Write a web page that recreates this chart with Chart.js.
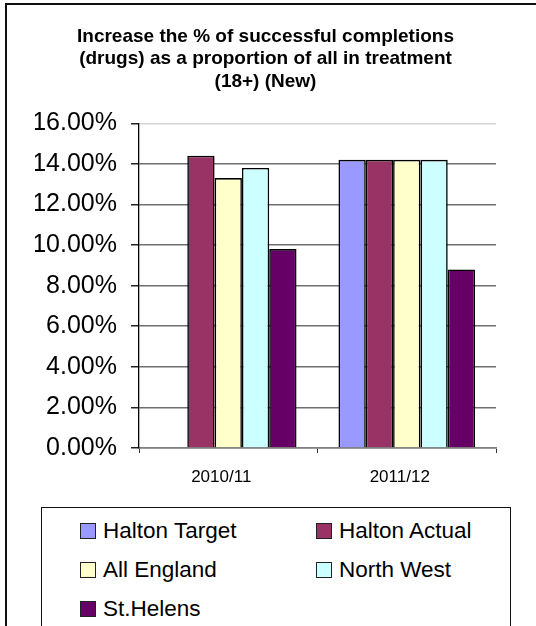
<!DOCTYPE html>
<html lang="en">
<head>
<meta charset="UTF-8" />
<title>Successful completions (drugs)</title>
<script src="https://cdn.jsdelivr.net/npm/chart.js"></script>
<style>
  html, body { margin: 0; padding: 0; background: #fff; }
  #wrap { position: relative; width: 536px; height: 626px; overflow: hidden; font-family: "Liberation Sans", Arial, sans-serif; }
  #frame { position: absolute; left: 5px; top: 3px; width: 560px; height: 660px; border-left: 2px solid #111; border-top: 2px solid #111; }
  #chart { position: absolute; left: 0; top: 0; }
  #legend { position: absolute; left: 41px; top: 507px; width: 468px; height: 140px; border: 1px solid #111; background: #fff; }
  .item { position: absolute; font-size: 22.5px; color: #000; line-height: 26px; white-space: nowrap; }
  .item span.box { display: inline-block; width: 14px; height: 14px; border: 1.5px solid #222; vertical-align: -1px; margin-right: 7px; }
</style>
</head>
<body>
<div id="wrap">
  <div id="frame"></div>
  <canvas id="chart" width="536" height="626"></canvas>
  <div id="legend"></div>
</div>

<script>
  const categories = ['2010/11', '2011/12'];
  const seriesNames = ['Halton Target', 'Halton Actual', 'All England', 'North West', 'St.Helens'];
  const seriesColors = ['#9999FF', '#993366', '#FFFFCC', '#CCFFFF', '#660066'];

  // % values (Halton Target has no bar in 2010/11)
  const haltonTarget = [null, 14.2];
  const haltonActual = [14.4, 14.2];
  const allEngland = [13.3, 14.2];
  const northWest = [13.8, 14.2];
  const stHelens = [9.8, 8.8];
  const seriesValues = [haltonTarget, haltonActual, allEngland, northWest, stHelens];

  const titleLines = [
    'Increase the % of successful completions',
    '(drugs) as a proportion of all in treatment',
    '(18+) (New)'
  ];

  const datasets = seriesNames.map((name, i) => ({
    label: name,
    data: seriesValues[i],
    backgroundColor: seriesColors[i],
    borderColor: '#000',
    borderWidth: 1.6,
    categoryPercentage: 0.765,
    barPercentage: 1
  }));

  new Chart(document.getElementById('chart'), {
    type: 'bar',
    data: { labels: categories, datasets },
    options: {
      responsive: false,
      animation: false,
      layout: { padding: { left: 35, right: 40, top: 0, bottom: 138 } },
      plugins: {
        legend: { display: false },
        tooltip: { enabled: false },
        title: {
          display: true,
          text: titleLines,
          color: '#000',
          font: { family: '"Liberation Sans", Arial, sans-serif', size: 19, weight: 'bold', lineHeight: 1.18 },
          padding: { top: 25.5, bottom: 30.5 }
        }
      },
      scales: {
        x: {
          afterFit: s => { s.height = 40; },
          grid: { drawOnChartArea: false, drawTicks: true, tickLength: 5, tickColor: '#333', offset: true },
          border: { color: '#808080', width: 1.5 },
          ticks: {
            color: '#000',
            padding: 14,
            labelOffset: -7,
            font: { family: '"Liberation Sans", Arial, sans-serif', size: 17 }
          }
        },
        y: {
          min: 0,
          max: 16,
          afterFit: s => { s.width = 104; },
          grid: {
            color: ctx => ctx.tick && ctx.tick.value === 16 ? '#d4d4d4' : '#6f6f6f',
            tickColor: '#222',
            tickLength: 8,
            lineWidth: 1.5
          },
          border: { color: '#000', width: 1.3 },
          ticks: {
            stepSize: 2,
            color: '#000',
            padding: 14,
            font: { family: '"Liberation Sans", Arial, sans-serif', size: 25 },
            callback: v => v.toFixed(2) + '%'
          }
        }
      }
    }
  });

  // legend in two columns, like the original
  const legend = document.getElementById('legend');
  const colX = [38, 274];
  const rowY = [10, 48.5, 87.5];
  seriesNames.forEach((name, i) => {
    const d = document.createElement('div');
    d.className = 'item';
    d.style.left = colX[i % 2] + 'px';
    d.style.top = rowY[Math.floor(i / 2)] + 'px';
    d.innerHTML = '<span class="box" style="background:' + seriesColors[i] + '"></span>' + name;
    legend.appendChild(d);
  });
</script>
</body>
</html>
